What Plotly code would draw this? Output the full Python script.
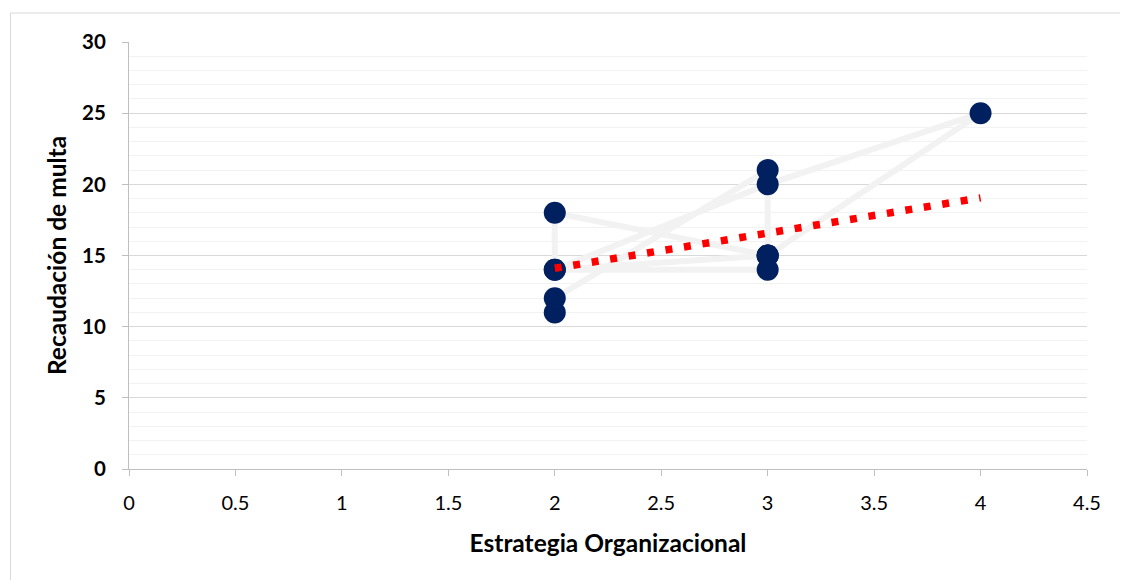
import plotly.graph_objects as go

# Data (in drawing order)
estrategia = [2, 2, 3, 3, 2, 2, 3, 4, 3, 3, 2, 3]
recaudacion = [11, 12, 21, 15, 18, 14, 20, 25, 15, 14, 14, 15]

# Linear trend line end points
trend_x = [2, 4]
trend_y = [14.1, 19.05]

x_ticks = [0, 0.5, 1, 1.5, 2, 2.5, 3, 3.5, 4, 4.5]
x_tick_labels = ["0", "0.5", "1", "1.5", "2", "2.5", "3", "3.5", "4", "4.5"]
y_ticks = [0, 5, 10, 15, 20, 25, 30]

FONT = "Lato"
# page body has an 8px default margin, so figure coords = screen coords - 8
L, R, T, B = 121, 49, 34, 119
W, H = 1128, 580
PW, PH = W - L - R, H - T - B

fig = go.Figure()
fig.add_trace(go.Scatter(
    x=estrategia, y=recaudacion, mode="lines+markers",
    line=dict(color="#f2f2f2", width=6),
    marker=dict(color="#002060", size=22),
    showlegend=False, hoverinfo="x+y",
))
fig.add_trace(go.Scatter(
    x=trend_x, y=trend_y, mode="lines",
    line=dict(color="#ff0000", width=7.5, dash="7px,11.7px"),
    showlegend=False, hoverinfo="skip",
))

# outer chart border
fig.add_shape(type="rect", xref="paper", yref="paper",
              x0=(2.5 - L) / PW, x1=(W + 5 - L) / PW,
              y0=(H - B - (H + 5)) / PH, y1=(H - B - 5) / PH,
              line=dict(color="#d9d9d9", width=1), fillcolor="rgba(0,0,0,0)",
              layer="below")

fig.update_layout(
    width=W, height=H,
    margin=dict(l=L, r=R, t=T, b=B),
    paper_bgcolor="white", plot_bgcolor="white",
    font=dict(family=FONT, color="#000000"),
    xaxis=dict(
        range=[0, 4.5], tickvals=x_ticks, ticktext=x_tick_labels,
        showgrid=False, zeroline=False,
        showline=True, linecolor="#bfbfbf", linewidth=1,
        ticks="outside", ticklen=6, tickcolor="#bfbfbf",
        tickfont=dict(size=20, family=FONT, color="#000"),
        ticklabelstandoff=10,
        title=dict(text="Estrategia Organizacional",
                   font=dict(size=24.5, family=FONT, color="#000", weight="bold"),
                   standoff=21),
    ),
    yaxis=dict(
        range=[0, 30], tickvals=y_ticks,
        showgrid=True, gridcolor="#d9d9d9", gridwidth=1.3,
        minor=dict(dtick=1, showgrid=True, gridcolor="#f2f2f2", gridwidth=1.3),
        zeroline=False,
        showline=True, linecolor="#bfbfbf", linewidth=1,
        ticks="outside", ticklen=6, tickcolor="#bfbfbf",
        tickfont=dict(size=20.5, family=FONT, color="#000", weight="bold"),
        ticklabelstandoff=12,
        title=dict(text="Recaudación de multa",
                   font=dict(size=24.5, family=FONT, color="#000", weight="bold"),
                   standoff=8),
    ),
)

fig.write_html("out.html")
